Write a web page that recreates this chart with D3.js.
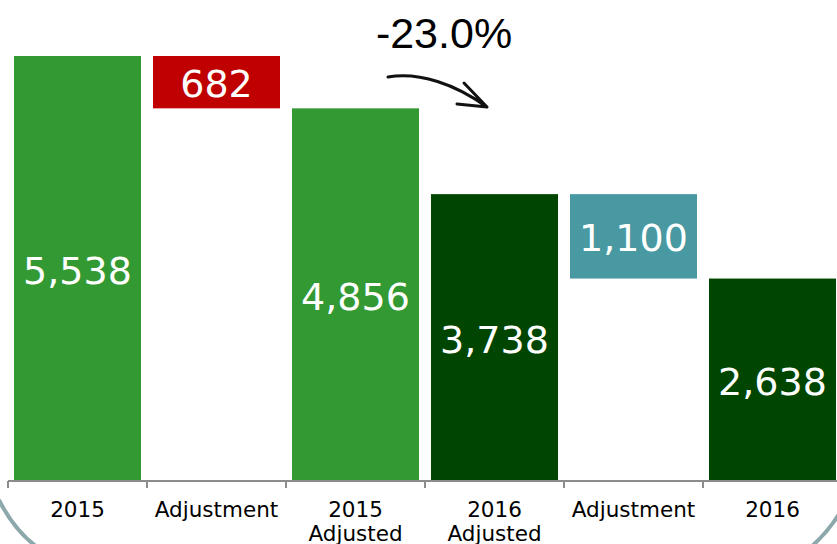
<!DOCTYPE html>
<html>
<head>
<meta charset="utf-8">
<script src="https://cdn.jsdelivr.net/npm/d3@7"></script>
<style>
    html, body { margin: 0; padding: 0; background: #fff; overflow: hidden; }
    svg { display: block; }
</style>
</head>
<body>
<svg id="viewer" width="837" height="544"></svg>
<script>
// data
var categories = ['2015', 'Adjustment', '2015\nAdjusted', '2016\nAdjusted', 'Adjustment', '2016'];
var values = [5538, -682, 4856, 3738, -1100, 2638];
var kinds = ['total', 'delta', 'total', 'total', 'delta', 'total'];
var colors = ['#339933', '#c00000', '#339933', '#004500', '#4899a1', '#004500'];
var labels = ['5,538', '682', '4,856', '3,738', '1,100', '2,638'];
var changeLabel = '-23.0%';

var width = 837, height = 544;
var axisY = 481;

var svg = d3.select('#viewer');

// build waterfall extents
var running = 0;
var bars = values.map((v, i) => {
    let lo, hi;
    if (kinds[i] == 'total') {
        lo = 0; hi = v; running = v;
    }
    else {
        lo = running + v; hi = running; running = lo;
    }
    return { index: i, lo: lo, hi: hi, color: colors[i], label: labels[i] };
});

var scaleX = d3.scaleBand()
    .domain(d3.range(categories.length))
    .range([8, 842])
    .paddingInner(12 / 139)
    .paddingOuter(6 / 139);

var scaleY = d3.scaleLinear()
    .domain([0, 5538])
    .range([axisY, 56]);

// decorative border arcs
svg.append('g')
    .attr('fill', 'none')
    .attr('stroke', '#8da8aa')
    .attr('stroke-width', 4)
    .selectAll('path')
    .data(['M-1,500 Q14,530 37,547', 'M839,514 Q828,532 811,547'])
    .enter()
    .append('path')
    .attr('d', d => d);

// bars
var barG = svg.append('g').attr('id', 'bars');

barG.selectAll('rect')
    .data(bars)
    .enter()
    .append('rect')
    .attr('x', d => scaleX(d.index))
    .attr('y', d => scaleY(d.hi))
    .attr('width', scaleX.bandwidth())
    .attr('height', d => scaleY(d.lo) - scaleY(d.hi))
    .attr('fill', d => d.color);

barG.selectAll('text')
    .data(bars)
    .enter()
    .append('text')
    .attr('x', d => scaleX(d.index) + scaleX.bandwidth() / 2)
    .attr('y', d => (scaleY(d.lo) + scaleY(d.hi)) / 2 + 15)
    .attr('text-anchor', 'middle')
    .attr('fill', '#fff')
    .style('font-family', '"DejaVu Sans", Verdana, sans-serif')
    .style('font-size', '38px')
    .text(d => d.label);

// axis
var xAxis = d3.axisBottom(scaleX)
    .tickSize(0)
    .tickFormat(i => categories[i]);

var bottomAxis = svg.append('g')
    .attr('class', 'axis')
    .attr('transform', `translate(0 ${axisY})`)
    .call(xAxis);

bottomAxis.select('.domain')
    .attr('d', 'M8,0H842')
    .attr('stroke', '#8c8c8c')
    .attr('stroke-width', 2);

// category boundary ticks
bottomAxis.selectAll('.sep')
    .data(d3.range(categories.length + 1))
    .enter()
    .append('line')
    .attr('class', 'sep')
    .attr('x1', i => 8 + i * scaleX.step())
    .attr('x2', i => 8 + i * scaleX.step())
    .attr('y1', 0)
    .attr('y2', 7)
    .attr('stroke', '#8c8c8c')
    .attr('stroke-width', 2);

bottomAxis.selectAll('.tick text').each(function(i) {
    let t = d3.select(this);
    let lines = categories[i].split('\n');
    t.text(null)
        .attr('y', 0)
        .attr('dy', null)
        .attr('fill', '#000')
        .style('font-family', '"DejaVu Sans", Verdana, sans-serif')
        .style('font-size', '21.5px');
    lines.forEach((line, k) => {
        t.append('tspan')
            .attr('x', 0)
            .attr('y', 36 + k * 24)
            .text(line);
    });
});

// change annotation
svg.append('text')
    .attr('x', 444)
    .attr('y', 48)
    .attr('text-anchor', 'middle')
    .attr('fill', '#000')
    .style('font-family', '"Liberation Sans", Arial, sans-serif')
    .style('font-size', '43px')
    .text(changeLabel);

svg.append('path')
    .attr('d', 'M388,77 C420,72 455,84 487,107 M464,83 L487,107 L457,104')
    .attr('fill', 'none')
    .attr('stroke', '#111')
    .attr('stroke-width', 3)
    .attr('stroke-linecap', 'round')
    .attr('stroke-linejoin', 'round');
</script>
</body>
</html>
